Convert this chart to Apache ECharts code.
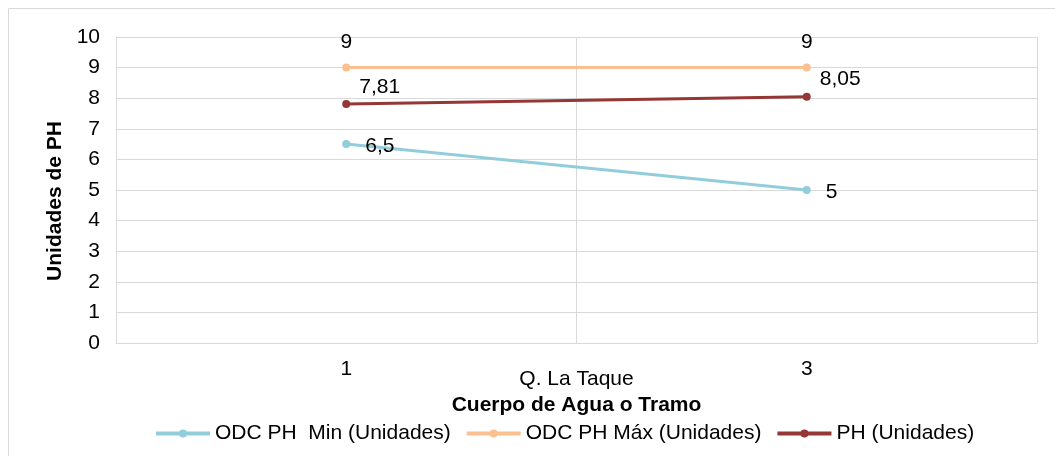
<!DOCTYPE html>
<html><head><meta charset="utf-8">
<script src="https://cdn.jsdelivr.net/npm/echarts@6/dist/echarts.min.js"></script>
<style>html,body{margin:0;padding:0;background:#fff}#c{width:1055px;height:456px}</style>
</head><body><div id="c"></div>
<script>
const categories = ['1', '3'];
const groupLabels = ['Q. La Taque'];
const seriesNames = ['ODC PH  Min (Unidades)', 'ODC PH Máx (Unidades)', 'PH (Unidades)'];
const odcMin = [6.5, 5];
const odcMax = [9, 9];
const ph = [7.81, 8.05];
const yTicks = { min: 0, max: 10, interval: 1 };

const font = 'Liberation Sans, Arial, sans-serif';
const FS = 21;
const fmt = p => String(p.value).replace('.', ',');
const chart = echarts.init(document.getElementById('c'));
chart.setOption({
  animation: false,
  textStyle: { fontFamily: font },
  graphic: [{ type: 'rect', shape: { x: 8.5, y: 8.5, width: 1070, height: 470 }, style: { fill: 'none', stroke: '#d9d9d9', lineWidth: 1 }, silent: true }],
  grid: { left: 116, right: 18, top: 37, bottom: 113 },
  legend: {
    bottom: 7, left: 149, itemWidth: 54, itemHeight: 10, itemGap: 14,
    lineStyle: { width: 4 },
    textStyle: { fontSize: FS, color: '#000', fontFamily: font },
    data: seriesNames
  },
  xAxis: [{
    type: 'category', data: categories, boundaryGap: true,
    axisLine: { lineStyle: { color: '#d9d9d9' } }, axisTick: { show: false },
    axisLabel: { fontSize: FS, color: '#000', margin: 16, fontFamily: font },
    splitLine: { show: true, lineStyle: { color: '#d9d9d9' } }
  }, {
    type: 'category', data: groupLabels, position: 'bottom', boundaryGap: true,
    axisLine: { show: false }, axisTick: { show: false },
    axisLabel: { fontSize: FS, color: '#000', margin: 26, fontFamily: font },
    name: 'Cuerpo de Agua o Tramo', nameLocation: 'middle', nameGap: 48,
    nameTextStyle: { fontSize: FS, fontWeight: 'bold', color: '#000', fontFamily: font }
  }],
  yAxis: {
    type: 'value', min: yTicks.min, max: yTicks.max, interval: yTicks.interval,
    axisLine: { show: true, lineStyle: { color: '#d9d9d9' } }, axisTick: { show: false },
    axisLabel: { fontSize: FS, color: '#000', margin: 16, fontFamily: font },
    splitLine: { lineStyle: { color: '#d9d9d9' } },
    name: 'Unidades de PH', nameLocation: 'middle', nameGap: 50, nameRotate: 90,
    nameTextStyle: { fontSize: FS, fontWeight: 'bold', color: '#000', fontFamily: font, padding: [0, 22, 0, 0] }
  },
  series: [{
    name: seriesNames[0], type: 'line', data: odcMin, xAxisIndex: 0,
    symbol: 'circle', symbolSize: 8,
    lineStyle: { color: '#92cddc', width: 3 }, itemStyle: { color: '#92cddc' },
    label: { show: true, position: 'right', distance: 15, offset: [0, 2], fontSize: FS, color: '#000', formatter: fmt, fontFamily: font }
  }, {
    name: seriesNames[1], type: 'line', data: odcMax, xAxisIndex: 0,
    symbol: 'circle', symbolSize: 8,
    lineStyle: { color: '#fac090', width: 3 }, itemStyle: { color: '#fac090' },
    label: { show: true, position: 'top', distance: 11, fontSize: FS, color: '#000', formatter: fmt, fontFamily: font }
  }, {
    name: seriesNames[2], type: 'line', data: ph, xAxisIndex: 0,
    symbol: 'circle', symbolSize: 8,
    lineStyle: { color: '#953735', width: 3 }, itemStyle: { color: '#953735' },
    label: { show: true, position: 'right', distance: 9, offset: [0, -17], fontSize: FS, color: '#000', formatter: fmt, fontFamily: font }
  }]
});
</script></body></html>
